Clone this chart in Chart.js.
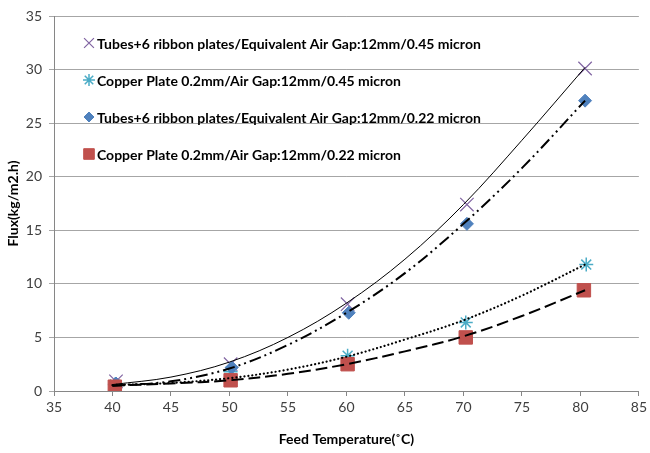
<!DOCTYPE html>
<html>
<head>
<meta charset="utf-8">
<script src="https://cdn.jsdelivr.net/npm/chart.js@4/dist/chart.umd.min.js"></script>
<style>
  html, body { margin: 0; padding: 0; background: #ffffff; }
  #wrap { width: 650px; height: 453px; }
</style>
</head>
<body>
<div id="wrap"><canvas id="c" width="650" height="453"></canvas></div>
<script>
// ---- Data ----
const seriesLabels = [
  'Tubes+6 ribbon plates/Equivalent Air Gap:12mm/0.45 micron',
  'Copper Plate 0.2mm/Air Gap:12mm/0.45 micron',
  'Tubes+6 ribbon plates/Equivalent Air Gap:12mm/0.22 micron',
  'Copper Plate 0.2mm/Air Gap:12mm/0.22 micron'
];
const tubes045X = [40.3, 50.1, 60.1, 70.3, 80.4];
const tubes045Y = [0.9, 2.5, 8.1, 17.4, 30.1];
const copper045X = [40.2, 50.1, 60.1, 70.2, 80.5];
const copper045Y = [0.6, 1.8, 3.3, 6.4, 11.8];
const tubes022X = [40.3, 50.2, 60.2, 70.3, 80.4];
const tubes022Y = [0.7, 2.2, 7.3, 15.6, 27.1];
const copper022X = [40.2, 50.1, 60.1, 70.2, 80.3];
const copper022Y = [0.4, 1.0, 2.5, 5.0, 9.4];

// Trendline curves
const trendX = [40, 45, 50, 55, 60, 65, 70, 75, 80.4];
const trendTubes045 = [0.6, 1.3, 2.7, 5.0, 8.2, 12.3, 17.4, 23.4, 30.2];
const trendCopper045 = [0.55, 0.75, 1.2, 2.0, 3.2, 4.8, 6.6, 8.9, 11.8];
const trendTubes022 = [0.5, 0.9, 2.1, 4.3, 7.3, 11.0, 15.6, 20.8, 27.1];
const trendCopper022 = [0.5, 0.7, 1.0, 1.6, 2.5, 3.7, 5.1, 7.0, 9.4];

const xTicks = [35, 40, 45, 50, 55, 60, 65, 70, 75, 80, 85];
const yTicks = [0, 5, 10, 15, 20, 25, 30, 35];
const xTitle = 'Feed Temperature(˚C)';
const yTitle = 'Flux(kg/m2.h)';

// ---- Build ----
const pts = (xs, ys) => xs.map((x, i) => ({ x: x, y: ys[i] }));
const FONT = 'Lato, Carlito, Calibri, "Liberation Sans", sans-serif';

const markerStyles = [
  { pointStyle: 'crossRot', radius: 9.5, color: '#8064A2', bw: 1.2, lr: 7 },
  { pointStyle: 'star', radius: 7, color: '#4BACC6', bw: 1.5, lr: 6 },
  { pointStyle: 'rectRot', radius: 6.5, color: '#4F81BD', bw: 1, lr: 5 },
  { pointStyle: 'rect', radius: 9.5, color: '#C0504D', bw: 1, lr: 7.5 }
];
const seriesX = [tubes045X, copper045X, tubes022X, copper022X];
const seriesY = [tubes045Y, copper045Y, tubes022Y, copper022Y];

const datasets = [];
seriesLabels.forEach((lab, i) => {
  const m = markerStyles[i];
  datasets.push({
    label: lab,
    data: pts(seriesX[i], seriesY[i]),
    pointStyle: m.pointStyle,
    pointRadius: m.radius,
    pointHoverRadius: m.radius,
    pointBorderWidth: m.bw,
    pointBackgroundColor: m.color,
    pointBorderColor: m.color,
    showLine: false,
    order: 10 - i
  });
});
const trends = [
  { y: trendTubes045, dash: [], width: 1 },
  { y: trendCopper045, dash: [0.1, 3.9], width: 2.2, cap: 'round' },
  { y: trendTubes022, dash: [12, 4, 2, 4, 2, 4], width: 2 },
  { y: trendCopper022, dash: [12, 5], width: 2 }
];
trends.forEach((t, i) => {
  datasets.push({
    label: 'trend' + i,
    data: pts(trendX, t.y),
    showLine: true,
    pointRadius: 0,
    borderColor: '#000000',
    borderWidth: t.width,
    borderDash: t.dash,
    borderCapStyle: t.cap || 'butt',
    tension: 0.35,
    fill: false,
    order: 0
  });
});

const legendPlugin = {
  id: 'inlineLegend',
  afterDraw(chart) {
    const ctx = chart.ctx;
    const rows = [43, 80, 117, 154];
    ctx.save();
    seriesLabels.forEach((lab, i) => {
      const m = markerStyles[i];
      ctx.fillStyle = m.color;
      ctx.strokeStyle = m.color;
      ctx.lineWidth = m.bw;
      Chart.helpers.drawPoint(ctx, { pointStyle: m.pointStyle, radius: m.lr, borderWidth: m.bw, rotation: 0 }, 89, rows[i]);
      ctx.fillStyle = '#000000';
      ctx.font = 'bold 14px ' + FONT;
      ctx.textBaseline = 'middle';
      ctx.textAlign = 'left';
      ctx.fillText(lab, 97, rows[i] + 1);
    });
    ctx.restore();
  }
};

new Chart(document.getElementById('c'), {
  type: 'scatter',
  data: { datasets: datasets },
  plugins: [legendPlugin],
  options: {
    responsive: false,
    animation: false,
    events: [],
    layout: { padding: { top: 16, right: 9, left: 0, bottom: 0 } },
    plugins: { legend: { display: false }, tooltip: { enabled: false } },
    scales: {
      x: {
        type: 'linear',
        min: 35, max: 85,
        afterBuildTicks(scale) { scale.ticks = xTicks.map(v => ({ value: v })); },
        afterFit(scale) { scale.height = 62; },
        grid: { drawOnChartArea: false, drawTicks: true, tickLength: 5, color: '#868686' },
        border: { color: '#868686', width: 1 },
        ticks: { color: '#404040', font: { family: FONT, size: 14 }, padding: 3, maxRotation: 0 },
        title: { display: true, text: xTitle, color: '#000000', font: { family: FONT, size: 14, weight: 'bold' }, padding: { top: 0, bottom: 5 } }
      },
      y: {
        type: 'linear',
        min: 0, max: 35,
        afterBuildTicks(scale) { scale.ticks = yTicks.map(v => ({ value: v })); },
        afterFit(scale) { scale.width = 54; },
        grid: { drawOnChartArea: true, drawTicks: true, tickLength: 5, color: '#A6A6A6' },
        border: { color: '#868686', width: 1 },
        ticks: { color: '#404040', font: { family: FONT, size: 14 }, padding: 7 },
        title: { display: true, text: yTitle, color: '#000000', font: { family: FONT, size: 14, weight: 'bold' }, padding: { top: 5, bottom: 0 } }
      }
    }
  }
});
</script>
</body>
</html>
